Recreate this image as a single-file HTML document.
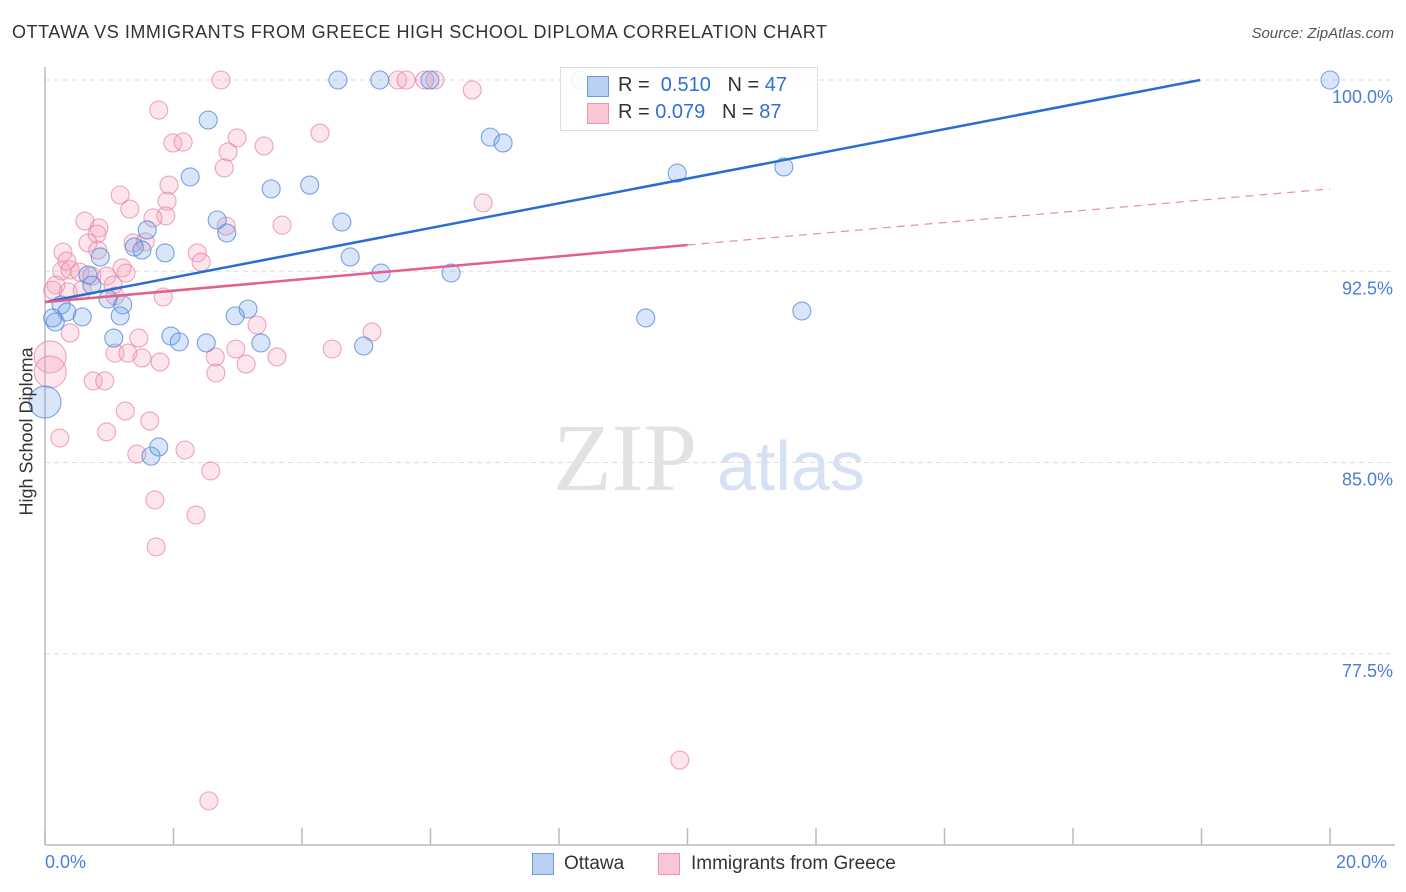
<!DOCTYPE html>
<html><head><meta charset="utf-8"><style>
body{margin:0;background:#fff;font-family:"Liberation Sans",sans-serif;}
#wrap{position:relative;width:1406px;height:892px;overflow:hidden;}
.t{position:absolute;white-space:nowrap;}
</style></head><body>
<div id="wrap">
<div class="t" style="left:12px;top:22px;font-size:18px;color:#333;letter-spacing:0.55px">OTTAWA VS IMMIGRANTS FROM GREECE HIGH SCHOOL DIPLOMA CORRELATION CHART</div>
<div class="t" style="right:12px;top:25px;font-size:15px;color:#555;font-style:italic">Source: ZipAtlas.com</div>
<svg id="plot" width="1406" height="892" style="position:absolute;left:0;top:0"></svg>
</div>
<script>
const blueX=[4.56,5.21,5.99,8.33,20.0,2.54,6.93,7.13,2.26,9.84,11.50,3.52,4.12,2.68,2.83,4.62,1.59,1.39,1.51,1.87,4.75,0.86,5.23,6.32,0.67,0.25,0.34,0.58,0.98,1.21,1.17,3.16,2.96,0.16,9.35,11.78,1.07,1.96,2.09,2.51,3.36,4.96,0.0,1.77,1.65,0.12,0.73];
const blueY=[100,100,100,100,100,98.43,97.76,97.53,96.20,96.35,96.59,95.73,95.88,94.51,94.00,94.43,94.12,93.45,93.33,93.22,93.06,93.06,92.43,92.43,92.35,91.18,90.90,90.71,91.41,91.18,90.75,91.02,90.75,90.51,90.67,90.94,89.88,89.96,89.73,89.69,89.69,89.57,87.37,85.61,85.25,90.67,91.96];
const blueBig=[42];
const pinkX=[2.74,5.49,5.62,5.91,6.07,6.65,1.77,1.99,2.15,2.99,3.41,4.28,2.85,2.79,1.93,1.90,1.88,1.68,1.17,1.32,0.62,0.84,0.81,1.37,1.56,0.28,0.34,0.67,0.82,0.26,0.39,0.54,0.73,0.96,1.20,1.26,0.17,0.12,0.36,0.58,1.06,1.09,1.84,2.37,2.43,2.82,3.69,6.82,3.30,5.09,0.39,0.08,0.08,1.46,1.09,1.29,1.51,1.79,2.65,2.97,3.61,4.47,2.66,3.13,0.75,0.93,1.25,1.63,0.96,1.43,2.18,0.23,2.58,1.71,2.35,1.73,9.88,2.55];
const pinkY=[100,100,100,100,100,99.61,98.82,97.53,97.57,97.73,97.41,97.92,97.18,96.55,95.88,95.25,94.67,94.59,95.49,94.94,94.47,94.20,93.96,93.61,93.65,93.25,92.90,93.61,93.33,92.51,92.55,92.47,92.31,92.31,92.63,92.43,91.96,91.76,91.69,91.76,91.96,91.53,91.49,93.22,92.86,94.27,94.31,95.18,90.39,90.12,90.08,89.14,88.55,89.88,89.29,89.29,89.10,88.94,89.14,89.45,89.14,89.45,88.51,88.86,88.20,88.20,87.02,86.63,86.20,85.33,85.49,85.96,84.67,83.53,82.94,81.69,73.33,71.73];
const pinkBig=[51,52];
const yTicks=[100,92.5,85,77.5];
const yTickLabels=["100.0%","92.5%","85.0%","77.5%"];
const blueTrend=[0,91.29,17.98,100];
const pinkTrend=[0,91.29,10.0,93.53,20.0,95.73];

const X0=45,X1=1330,Y100=80,PXPER=25.5;
function sx(v){return X0+(v/20)*(X1-X0);}
function sy(v){return Y100+(100-v)*PXPER;}
const NS="http://www.w3.org/2000/svg";
const svg=document.getElementById('plot');
function mk(tag,attrs,parent){const e=document.createElementNS(NS,tag);for(const k in attrs)e.setAttribute(k,attrs[k]);(parent||svg).appendChild(e);return e;}

yTicks.forEach((t,i)=>{
  const g=mk('line',{x1:X0,x2:1395,y1:sy(t),y2:sy(t),stroke:'#ddd','stroke-dasharray':'5,4','stroke-width':1});
  
  
  const tx=mk('text',{x:1393,y:sy(t)+23,'text-anchor':'end','font-size':18,fill:'#4a7fd6','font-family':'Liberation Sans, sans-serif'});
  tx.textContent=yTickLabels[i];
  
  
});
const wm=mk('text',{x:553,y:490,'font-size':96,fill:'#e2e2e2','font-family':'Liberation Serif, serif'});wm.textContent='ZIP';


const wm2=mk('text',{x:717,y:490,'font-size':70,fill:'#d6e2f4','font-family':'Liberation Sans, sans-serif'});wm2.textContent='atlas';


const ax=mk('line',{x1:X0,x2:1395,y1:845,y2:845,stroke:'#bbb','stroke-width':1.5});


const ay=mk('line',{x1:X0,x2:X0,y1:67,y2:845,stroke:'#bbb','stroke-width':1.5});


for(let i=0;i<=10;i++){
  const tk=mk('line',{x1:sx(i*2),x2:sx(i*2),y1:828,y2:845,stroke:'#bbb','stroke-width':1.5});
  
  
}
function dot(x,y,big,fill,stroke,name){
  const c=mk('circle',{cx:sx(x),cy:sy(y),r:big?16:9,fill:fill,stroke:stroke,'stroke-width':1.1});
  
  
}
pinkX.forEach((x,i)=>dot(x,pinkY[i],pinkBig.includes(i),'rgba(244,160,188,0.28)','rgba(232,130,162,0.7)','greece-point'));
blueX.forEach((x,i)=>dot(x,blueY[i],blueBig.includes(i),'rgba(120,165,235,0.28)','rgba(80,135,215,0.75)','ottawa-point'));
const bl=mk('line',{x1:sx(blueTrend[0]),y1:sy(blueTrend[1]),x2:sx(blueTrend[2]),y2:sy(blueTrend[3]),stroke:'#2a6dd2','stroke-width':2.5});


const pl=mk('line',{x1:sx(pinkTrend[0]),y1:sy(pinkTrend[1]),x2:sx(pinkTrend[2]),y2:sy(pinkTrend[3]),stroke:'#e3608e','stroke-width':2.5});


const pd=mk('line',{x1:sx(pinkTrend[2]),y1:sy(pinkTrend[3]),x2:sx(pinkTrend[4]),y2:sy(pinkTrend[5]),stroke:'#e88aab','stroke-width':1.2,'stroke-dasharray':'8,6'});


</script>
<div class="t" style="left:-33px;top:445px;font-size:18px;color:#333;transform:rotate(-90deg);transform-origin:center;width:120px;text-align:center">High School Diploma</div>
<div class="t" style="left:45px;top:852px;font-size:18px;color:#4a7fd6">0.0%</div>
<div class="t" style="left:1336px;top:852px;font-size:18px;color:#4a7fd6">20.0%</div>
<div style="position:absolute;left:560px;top:67px;width:256px;height:62px;border:1px solid #ddd;background:rgba(255,255,255,0.9)">
  <div style="position:absolute;left:26px;top:8px;width:20px;height:19px;background:#b9d0f3;border:1px solid #6d9be0"></div>
  <div class="t" style="left:57px;top:6px;font-size:20px;color:#333">R = <span style="color:#2f6fd6">&nbsp;0.510</span>&nbsp;&nbsp;&nbsp;N = <span style="color:#2f6fd6">47</span></div>
  <div style="position:absolute;left:26px;top:35px;width:20px;height:19px;background:#f9c6d5;border:1px solid #ec94b0"></div>
  <div class="t" style="left:57px;top:33px;font-size:20px;color:#333">R = <span style="color:#2f6fd6">0.079</span>&nbsp;&nbsp;&nbsp;N = <span style="color:#2f6fd6">87</span></div>
</div>
<div style="position:absolute;left:532px;top:853px;height:22px">
  <div style="position:absolute;left:0;top:0;width:20px;height:20px;background:#b9d0f3;border:1px solid #6d9be0"></div>
  <div class="t" style="left:32px;top:0;font-size:19px;color:#333">Ottawa</div>
</div>
<div style="position:absolute;left:658px;top:853px;height:22px">
  <div style="position:absolute;left:0;top:0;width:20px;height:20px;background:#f9c6d5;border:1px solid #ec94b0"></div>
  <div class="t" style="left:33px;top:0;font-size:19px;color:#333">Immigrants from Greece</div>
</div>
</body></html>
